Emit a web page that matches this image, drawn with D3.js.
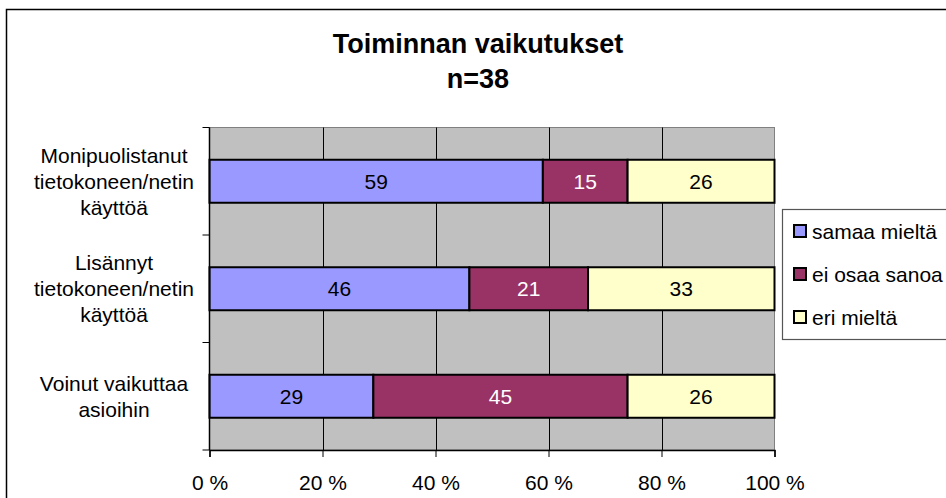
<!DOCTYPE html>
<html>
<head>
<meta charset="utf-8">
<script src="https://cdn.jsdelivr.net/npm/d3@7"></script>
<style>
  html, body { margin: 0; padding: 0; background: #fff; }
  svg { display: block; font-family: "Liberation Sans", Arial, sans-serif; }
</style>
</head>
<body>
<svg id="chart" width="946" height="498"></svg>
<script>
// Survey answers, percent of respondents (n=38)
const categories = [
  ["Monipuolistanut", "tietokoneen/netin", "käyttöä"],
  ["Lisännyt", "tietokoneen/netin", "käyttöä"],
  ["Voinut vaikuttaa", "asioihin"]
];
const seriesNames = ["samaa mieltä", "ei osaa sanoa", "eri mieltä"];
const samaaMielta = [59, 46, 29];
const eiOsaaSanoa = [15, 21, 45];
const eriMielta = [26, 33, 26];
const xTicks = [0, 20, 40, 60, 80, 100];
const titleLines = ["Toiminnan vaikutukset", "n=38"];

const colors = ["#9999FF", "#993366", "#FFFFCC"];
const labelColors = ["#000", "#fff", "#000"];

const rows = categories.map((c, i) => ({
  key: i,
  s0: samaaMielta[i], s1: eiOsaaSanoa[i], s2: eriMielta[i]
}));
const stack = d3.stack().keys(["s0", "s1", "s2"])(rows);

const svg = d3.select("#chart");
const plot = { left: 209.5, right: 774.5, top: 127.5, bottom: 450 };

// Outer chart frame
svg.append("rect")
  .attr("x", 6.5).attr("y", 9.5).attr("width", 980).attr("height", 520)
  .attr("fill", "#fff").attr("stroke", "#000").attr("stroke-width", 1.5);

const x = d3.scaleLinear().domain([0, 100]).range([plot.left, plot.right]);
const y = d3.scaleBand().domain(d3.range(categories.length))
  .range([plot.top, plot.bottom]).paddingInner(0.6).paddingOuter(0.3);
const yOuter = d3.scaleBand().domain(d3.range(categories.length))
  .range([plot.top, plot.bottom]);

// Plot background
svg.append("rect")
  .attr("x", plot.left).attr("y", plot.top)
  .attr("width", plot.right - plot.left).attr("height", plot.bottom - plot.top)
  .attr("fill", "#C0C0C0").attr("stroke", "#808080").attr("stroke-width", 1);

// Vertical gridlines
svg.append("g").selectAll("line")
  .data(xTicks.filter(t => t > 0 && t < 100))
  .join("line")
  .attr("x1", d => Math.round(x(d)) + 0.5).attr("x2", d => Math.round(x(d)) + 0.5)
  .attr("y1", plot.top).attr("y2", plot.bottom)
  .attr("stroke", "#000").attr("stroke-width", 1);

// Stacked bars
const layers = svg.append("g").selectAll("g")
  .data(stack).join("g")
  .attr("fill", (d, i) => colors[i]);

layers.selectAll("rect")
  .data(d => d).join("rect")
  .attr("x", d => x(d[0]))
  .attr("y", (d, i) => y(i))
  .attr("width", d => x(d[1]) - x(d[0]))
  .attr("height", y.bandwidth())
  .attr("stroke", "#000").attr("stroke-width", 2);

// Value labels
stack.forEach((layer, si) => {
  svg.append("g").selectAll("text")
    .data(layer).join("text")
    .attr("x", d => x((d[0] + d[1]) / 2))
    .attr("y", (d, i) => y(i) + y.bandwidth() / 2)
    .attr("dy", "0.36em")
    .attr("text-anchor", "middle")
    .attr("font-size", 21)
    .attr("fill", labelColors[si])
    .text(d => d[1] - d[0]);
});

// X axis
const xAxis = svg.append("g")
  .attr("transform", `translate(0,${plot.bottom})`)
  .call(d3.axisBottom(x).tickValues(xTicks).tickFormat(d => d + " %").tickSize(7).tickPadding(18));
xAxis.select(".domain").attr("stroke", "#000").attr("stroke-width", 1.5);
xAxis.selectAll(".tick line").attr("stroke", "#000");
xAxis.selectAll(".tick text")
  .attr("font-size", 21).attr("fill", "#000")
  .attr("font-family", "'Liberation Sans', Arial, sans-serif");

// Y axis line with category boundary ticks
svg.append("line")
  .attr("x1", plot.left).attr("x2", plot.left)
  .attr("y1", plot.top).attr("y2", plot.bottom)
  .attr("stroke", "#000").attr("stroke-width", 1.5);
const boundaries = d3.range(categories.length + 1).map(i =>
  i < categories.length ? yOuter(i) : plot.bottom);
svg.append("g").selectAll("line")
  .data(boundaries).join("line")
  .attr("x1", plot.left - 7).attr("x2", plot.left)
  .attr("y1", d => d).attr("y2", d => d)
  .attr("stroke", "#000").attr("stroke-width", 1);

// Category labels (multi-line, centred)
const lineH = 26;
const catG = svg.append("g");
categories.forEach((lines, i) => {
  const cy = yOuter(i) + yOuter.bandwidth() / 2;
  const t = catG.append("text")
    .attr("text-anchor", "middle")
    .attr("font-size", 21)
    .attr("fill", "#000");
  lines.forEach((ln, k) => {
    t.append("tspan")
      .attr("x", 114)
      .attr("y", cy + (k - (lines.length - 1) / 2) * lineH)
      .attr("dy", "0.36em")
      .text(ln);
  });
});

// Title
const title = svg.append("text")
  .attr("text-anchor", "middle")
  .attr("font-size", 27).attr("font-weight", "bold").attr("fill", "#000");
titleLines.forEach((ln, k) => {
  title.append("tspan").attr("x", 478).attr("y", 53 + k * 35).text(ln);
});

// Legend
const leg = svg.append("g");
leg.append("rect")
  .attr("x", 782.5).attr("y", 209.5).attr("width", 200).attr("height", 130)
  .attr("fill", "#fff").attr("stroke", "#555").attr("stroke-width", 1.2);
seriesNames.forEach((name, i) => {
  const cy = 231 + i * 43;
  leg.append("rect")
    .attr("x", 794).attr("y", cy - 6).attr("width", 12).attr("height", 12)
    .attr("fill", colors[i]).attr("stroke", "#000").attr("stroke-width", 2);
  leg.append("text")
    .attr("x", 812).attr("y", cy).attr("dy", "0.36em")
    .attr("font-size", 21).attr("fill", "#000")
    .text(name);
});
</script>
</body>
</html>
